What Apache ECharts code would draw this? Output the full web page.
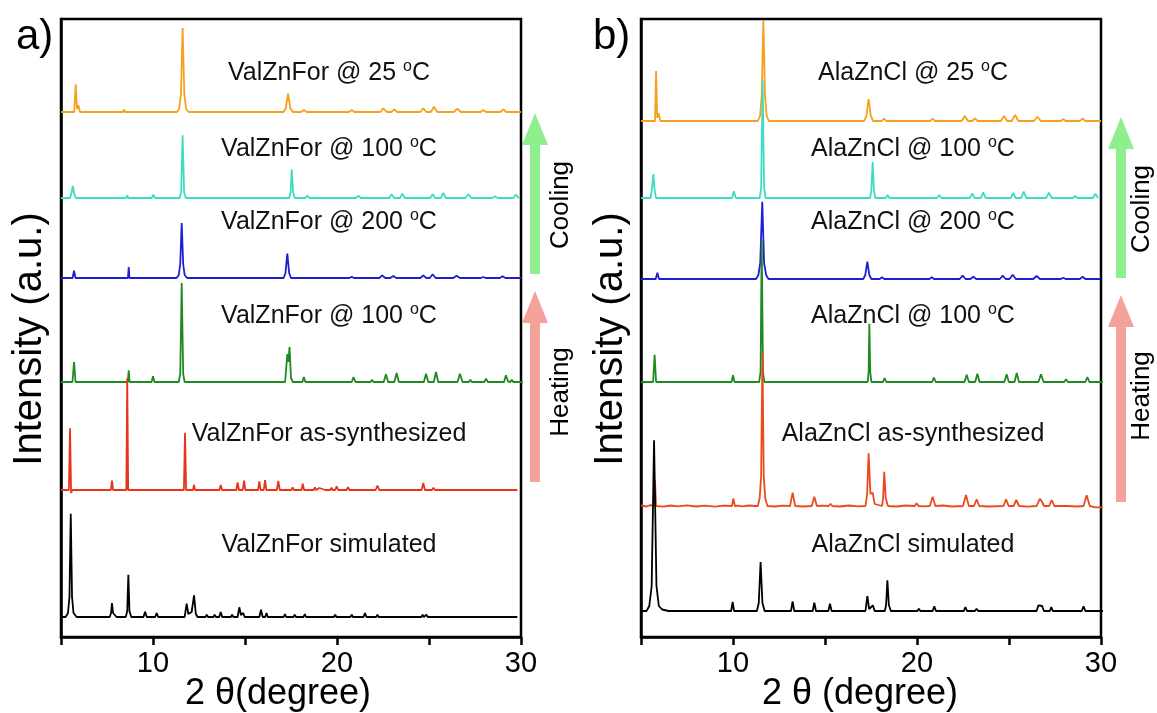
<!DOCTYPE html>
<html>
<head>
<meta charset="utf-8">
<script src="https://cdn.jsdelivr.net/npm/echarts@6/dist/echarts.min.js"></script>
<style>
  html, body { margin: 0; padding: 0; background: #fff; }
  #chart { width: 1157px; height: 713px; }
</style>
</head>
<body>
<div id="chart"></div>
<script>
// ---------- x-axis (2θ) ticks ----------
const xMin = 5, xMax = 30, xStep = 5;
const xLabelTicks = [10, 20, 30];

// ---------- panel a: ValZnFor patterns, [2θ, intensity above own baseline] ----------
const aLabels = ['ValZnFor @ 25 °C', 'ValZnFor @ 100 °C', 'ValZnFor @ 200 °C',
                 'ValZnFor @ 100 °C', 'ValZnFor as-synthesized', 'ValZnFor simulated'];
const aBaselines = [525, 439, 359, 255, 147, 20];

const a25 = [[5,0],[5.72,0],[5.8,27.7],[5.87,3],[5.95,6.7],[6.03,0],
  [8.36,0],[8.42,2.3],[8.48,0],[10.0,0],[10.1,1],[10.2,0],
  [11.3,0],[11.42,3],[11.52,18],[11.61,84],[11.7,18],[11.8,3],[11.95,0],
  [14.25,0],[14.35,1.7],[14.45,0],[15.25,0],[15.35,1],[15.45,0],
  [17.1,0],[17.22,4],[17.34,18.3],[17.46,4],[17.6,0],
  [18.05,0],[18.2,2],[18.35,0],[19.25,0],[19.35,1],[19.45,0],[19.9,0],[20.0,1],[20.1,0],
  [20.65,0],[20.8,2],[20.95,0],[21.7,0],[21.8,1],[21.9,0],
  [22.35,0],[22.52,3.7],[22.7,0],[22.95,0],[23.11,2.7],[23.27,0],
  [24.52,0],[24.69,3.7],[24.85,0],[25.1,0],[25.27,5.3],[25.45,0],
  [26.35,0],[26.54,3.3],[26.72,0],[27.1,0],[27.19,1],[27.3,0],
  [27.8,0],[27.95,2],[28.1,0],[28.88,0],[29.04,2.7],[29.2,0],[30,0]];

const a100c = [[5,0],[5.5,0],[5.58,6],[5.64,12],[5.72,4],[5.8,0],
  [8.55,0],[8.6,2.7],[8.65,0],[9.93,0],[10.02,3.3],[10.11,0],
  [11.45,0],[11.53,6],[11.61,62.7],[11.69,6],[11.78,0],
  [13.15,0],[13.2,0.7],[13.25,0],[14.45,0],[14.55,1],[14.65,0],[15.4,0],[15.5,1],[15.6,0],
  [17.4,0],[17.48,6],[17.54,28.7],[17.61,6],[17.7,0],
  [18.28,0],[18.39,2.3],[18.5,0],[19.5,0],[19.6,0.7],[19.7,0],
  [21.03,0],[21.16,2.3],[21.29,0],[22.1,0],[22.2,0.7],[22.3,0],
  [22.84,0],[22.97,3.7],[23.1,0],[23.42,0],[23.55,4.3],[23.68,0],
  [25.07,0],[25.2,3.7],[25.33,0],[25.64,0],[25.78,5],[25.92,0],
  [26.98,0],[27.14,4],[27.3,0],[27.7,0],[27.8,0.7],[27.9,0],
  [28.45,0],[28.59,1.7],[28.73,0],[29.58,0],[29.73,3.3],[29.85,0.5],[29.9,0]];

const a200 = [[5,0],[5.63,0],[5.71,7.3],[5.79,0],
  [8.64,0],[8.68,11],[8.72,0],[9.93,0],[10.0,1.3],[10.07,0],
  [11.28,0],[11.4,3],[11.48,14],[11.56,55],[11.64,14],[11.72,3],[11.85,0],
  [14.33,0],[14.4,0.7],[14.47,0],
  [17.1,0],[17.2,5],[17.3,24.3],[17.4,5],[17.5,0],
  [18.0,0],[18.1,1.3],[18.2,0],[19.2,0],[19.3,0.7],[19.4,0],
  [20.68,0],[20.8,1.3],[20.92,0],[21.7,0],[21.8,0.7],[21.9,0],
  [22.3,0],[22.46,2.7],[22.62,0],[22.9,0],[23.06,2],[23.22,0],
  [24.53,0],[24.69,2.7],[24.85,0],[25.04,0],[25.2,3.7],[25.36,0],
  [26.32,0],[26.5,2.3],[26.68,0],[27.0,0],[27.1,0.7],[27.2,0],
  [27.82,0],[27.95,1],[28.08,0],[28.85,0],[29.0,1.7],[29.15,0],[30,0]];

const a100h = [[5,0],[5.62,0],[5.71,20],[5.79,0],
  [8.63,0],[8.68,11.7],[8.73,0],[9.92,0],[10.0,5.7],[10.08,0],
  [11.4,0],[11.48,8],[11.56,99],[11.64,8],[11.72,0],
  [14.38,0],[14.45,0.7],[14.52,0],
  [17.18,0],[17.3,28],[17.36,20],[17.42,35],[17.5,4],[17.6,0],
  [18.12,0],[18.2,5],[18.28,0],[19.32,0],[19.4,1.7],[19.48,0],
  [20.8,0],[20.9,5],[21.0,0],[21.82,0],[21.9,2.3],[21.98,0],
  [22.54,0],[22.66,7.7],[22.78,0],[23.12,0],[23.24,9],[23.36,0],
  [24.72,0],[24.84,8.3],[24.96,0],[25.26,0],[25.38,10],[25.5,0],
  [26.55,0],[26.68,8.3],[26.82,0],[27.17,0],[27.25,2.3],[27.33,0],
  [28.0,0],[28.1,3.3],[28.2,0],[29.08,0],[29.18,6.7],[29.3,0.5],[29.42,0],[29.5,2.3],[29.58,0],[30.1,0]];

const aAsSyn = [[5,0],[5.43,0],[5.49,61.7],[5.55,-3],[5.62,0],
  [7.71,0],[7.77,9.3],[7.83,0],[8.55,0],[8.6,112],[8.65,0],
  [9.52,0],[9.57,1],[9.62,0],[10.1,0],[10.16,2],[10.22,0],[10.6,0],[10.65,1.3],[10.7,0],
  [11.68,0],[11.74,57.3],[11.8,0],[12.17,0],[12.23,5],[12.29,0],[12.74,0],[12.8,1.3],[12.86,0],
  [13.61,0],[13.68,5],[13.75,0],[14.14,0],[14.2,2],[14.26,0],
  [14.53,0],[14.6,7.7],[14.67,0],[14.88,0],[14.95,9.3],[15.02,0],
  [15.71,0],[15.78,8.7],[15.85,0],[16.02,0],[16.09,10],[16.16,0],
  [16.73,0],[16.81,9],[16.89,0],[17.14,0],[17.2,2],[17.26,0],[17.52,0],[17.59,2.7],[17.66,0],
  [18.07,0],[18.14,6.3],[18.21,0],[18.73,0],[18.8,2.7],[18.87,0],[18.97,0],[19.04,2],[19.11,0],
  [19.36,0],[19.43,2],[19.5,0],[19.63,0],[19.7,2.3],[19.77,0],[19.9,0],[19.98,3.7],[20.06,0],
  [20.52,0],[20.6,2.7],[20.68,0],[21.63,0],[21.7,1.3],[21.77,0],[22.1,0],[22.2,4.3],[22.3,0],
  [23.73,0],[23.8,1.3],[23.87,0],[24.6,0],[24.69,7],[24.78,0],[25.16,0],[25.24,2.3],[25.32,0],
  [26.52,0],[26.6,1.3],[26.68,0],[27.52,0],[27.6,1],[27.68,0],[28.63,0],[28.7,0.7],[28.77,0],[29.8,0]];

const aSim = [[5,0],[5.25,0],[5.38,4],[5.46,20],[5.53,103.3],[5.6,20],[5.68,4],[5.85,0],
  [7.65,0],[7.72,4],[7.77,14],[7.83,4],[7.93,2.3],[8.02,0],
  [8.52,0],[8.6,6],[8.66,42.3],[8.72,6],[8.82,0],[9.48,0],[9.57,5.3],[9.66,0],[10.12,0],[10.2,4],[10.28,0],
  [11.72,0],[11.83,13.3],[11.92,3],[12.0,2],[12.1,5],[12.23,21.7],[12.33,3],[12.42,0],
  [12.85,0],[12.92,2.3],[12.99,0],[13.28,0],[13.35,2.3],[13.42,0],[13.6,0],[13.68,5],[13.76,0],
  [14.23,0],[14.3,2.3],[14.37,0],[14.6,0],[14.69,9.7],[14.78,2],[14.9,4],[14.98,0],
  [15.78,0],[15.87,7.3],[15.96,0],[16.1,0],[16.17,4],[16.24,0],
  [16.83,0],[16.9,1.7],[16.97,0],[17.1,0],[17.17,3],[17.24,0],[17.63,0],[17.7,2.3],[17.77,0],
  [18.18,0],[18.25,3],[18.32,0],[18.83,0],[18.9,1.7],[18.97,0],[19.33,0],[19.4,1.7],[19.47,0],
  [19.83,0],[19.9,2.3],[19.97,0],[20.73,0],[20.8,2.3],[20.87,0],[21.44,0],[21.52,4],[21.6,0],
  [22.13,0],[22.2,2.3],[22.27,0],[22.43,0],[22.5,2],[22.58,0],[22.93,0],[23.0,2],[23.07,0],
  [23.83,0],[23.9,1.3],[23.97,0],[24.58,0],[24.65,2.3],[24.72,0],[24.79,0],[24.86,2.3],[24.93,0],
  [25.33,0],[25.4,1.7],[25.47,0],[26.43,0],[26.5,1.3],[26.57,0],[27.03,0],[27.1,1.7],[27.17,0],
  [27.83,0],[27.9,1.3],[27.97,0],[28.73,0],[28.8,1],[28.87,0],[29.8,0]];

// ---------- panel b: AlaZnCl patterns ----------
const bLabels = ['AlaZnCl @ 25 °C', 'AlaZnCl @ 100 °C', 'AlaZnCl @ 200 °C',
                 'AlaZnCl @ 100 °C', 'AlaZnCl as-synthesized', 'AlaZnCl simulated'];
const bBaselines = [516, 439, 358, 255, 131, 26];

const b25 = [[5,0],[5.76,0],[5.82,50],[5.88,3],[5.95,7.7],[6.05,0],
  [10.03,0],[10.1,1.3],[10.17,0],
  [11.35,0],[11.47,5],[11.56,25],[11.65,101],[11.74,25],[11.83,5],[11.95,0],
  [14.38,0],[14.46,1.3],[14.54,0],[15.32,0],[15.4,0.7],[15.48,0],
  [17.12,0],[17.25,5],[17.37,22],[17.49,5],[17.62,0],
  [18.08,0],[18.2,2.3],[18.32,0],[19.3,0],[19.4,1],[19.5,0],[19.82,0],[19.9,0.7],[19.98,0],
  [20.72,0],[20.85,2.3],[20.98,0],[21.8,0],[21.9,1],[22.0,0],
  [22.43,0],[22.6,5],[22.77,0],[23.0,0],[23.15,2.7],[23.3,0],
  [24.56,0],[24.73,5],[24.9,0],[25.15,0],[25.33,6],[25.51,0],
  [26.35,0],[26.54,4.3],[26.73,0],[27.1,0],[27.2,1.3],[27.3,0],
  [27.82,0],[27.95,2],[28.08,0],[28.85,0],[29.0,2.7],[29.15,0],[30,0]];

const b100c = [[5,0],[5.52,0],[5.6,10],[5.67,24],[5.74,8],[5.82,0],
  [9.95,0],[10.05,6.7],[10.15,0],
  [11.45,0],[11.53,10],[11.61,118.3],[11.69,10],[11.77,0],
  [13.18,0],[13.25,0.7],[13.32,0],[14.42,0],[14.5,1.7],[14.58,0],[15.42,0],[15.5,1],[15.58,0],
  [17.45,0],[17.52,8],[17.59,36],[17.66,8],[17.74,0],
  [18.3,0],[18.4,3],[18.5,0],[19.6,0],[19.7,1],[19.8,0],
  [21.09,0],[21.21,3],[21.33,0],[22.1,0],[22.2,1],[22.3,0],
  [22.87,0],[23.0,4.7],[23.13,0],[23.47,0],[23.6,5.7],[23.73,0],
  [25.1,0],[25.23,5],[25.36,0],[25.66,0],[25.8,6.3],[25.94,0],
  [27.02,0],[27.17,5.3],[27.32,0],[27.72,0],[27.8,1],[27.88,0],
  [28.48,0],[28.6,2],[28.72,0],[29.55,0],[29.7,4.3],[29.8,1],[29.85,0]];

const b200 = [[5,0],[5.8,0],[5.89,6.3],[5.98,0],[9.93,0],[10.0,1.3],[10.07,0],
  [11.25,0],[11.38,4],[11.48,16],[11.59,77.3],[11.69,16],[11.8,4],[11.93,0],
  [14.32,0],[14.4,1],[14.48,0],
  [17.08,0],[17.19,4],[17.3,17.3],[17.41,4],[17.52,0],
  [17.98,0],[18.1,1.7],[18.22,0],[19.2,0],[19.3,1],[19.4,0],
  [20.68,0],[20.8,1.7],[20.92,0],[21.7,0],[21.8,1],[21.9,0],
  [22.32,0],[22.48,3.3],[22.64,0],[22.9,0],[23.06,2.3],[23.22,0],
  [24.5,0],[24.66,3.3],[24.82,0],[25.03,0],[25.2,4.3],[25.37,0],
  [26.32,0],[26.5,3],[26.68,0],[27.1,0],[27.2,1],[27.3,0],
  [27.82,0],[27.95,1.3],[28.08,0],[28.85,0],[29.0,2.3],[29.15,0],[29.95,0]];

const b100h = [[5,0],[5.66,0],[5.74,27.3],[5.82,0],
  [9.92,0],[10.0,6.7],[10.08,0],
  [11.42,0],[11.5,10],[11.56,141.7],[11.63,10],[11.7,0],
  [13.13,0],[13.2,1],[13.27,0],[14.37,0],[14.45,1.7],[14.53,0],[15.32,0],[15.4,1],[15.48,0],
  [17.32,0],[17.37,10],[17.41,58.3],[17.46,10],[17.52,0],
  [18.15,0],[18.24,4],[18.33,0],[19.32,0],[19.4,1],[19.48,0],
  [20.82,0],[20.92,4.3],[21.02,0],[21.82,0],[21.9,1.7],[21.98,0],
  [22.58,0],[22.7,7.3],[22.82,0],[23.16,0],[23.28,8.3],[23.4,0],
  [24.75,0],[24.87,7.7],[24.99,0],[25.3,0],[25.42,9],[25.54,0],
  [26.6,0],[26.74,7.7],[26.88,0],[27.22,0],[27.3,1.7],[27.38,0],
  [28.0,0],[28.1,2.7],[28.2,0],[29.15,0],[29.26,5],[29.37,0],[30.1,0]];

const bAsSyn = [[5,0.5],[5.3,-0.5],[5.5,0.8],[5.7,0],[5.76,26],[5.82,0],[6.2,-0.6],[6.6,0.5],
  [7.0,-0.3],[7.5,0.6],[8.0,-0.5],[8.5,0.4],[9.0,-0.6],[9.5,0.3],
  [9.94,0],[10.02,7.7],[10.1,0],[10.3,0.3],[10.4,1.3],[10.5,-0.4],[10.9,0.5],[11.2,0],
  [11.35,0],[11.45,8],[11.53,30],[11.6,152.7],[11.67,30],[11.75,8],[11.87,0],
  [12.3,-0.5],[12.7,0.4],[13.1,0],[13.24,13.3],[13.38,0],[13.8,-0.5],
  [14.28,0],[14.42,9.3],[14.56,0],[14.9,0.4],[15.2,0],[15.3,2.3],[15.4,0],[15.8,-0.5],[16.3,0.5],[16.8,-0.4],
  [17.2,0],[17.29,12],[17.37,52.7],[17.47,12],[17.59,13.3],[17.7,2],[17.8,0],
  [18.1,0],[18.16,8],[18.22,34.3],[18.3,8],[18.42,0],
  [18.9,-0.5],[19.4,0.5],[19.88,0],[19.98,2.7],[20.08,0],[20.4,-0.4],
  [20.7,0],[20.85,9.3],[21.0,0],[21.4,0.5],[21.9,-0.5],
  [22.5,0],[22.66,11],[22.82,0],[23.1,0],[23.24,6.7],[23.38,0],[23.9,-0.5],
  [24.7,0],[24.84,6.7],[24.98,0],[25.25,0],[25.4,6],[25.55,0],[26.0,-0.6],
  [26.5,0],[26.68,7.3],[26.8,4],[26.9,0],[27.18,0],[27.32,6],[27.46,0],
  [28.0,0],[28.1,1],[28.2,0],[28.7,-0.5],[29.05,0],[29.22,10.7],[29.39,0],[29.7,-1.3],[30.2,-1.3]];

const bSim = [[5,0],[5.3,0],[5.45,5],[5.58,25],[5.71,170.7],[5.84,25],[5.97,5],[6.15,1.5],[6.5,0],
  [9.9,0],[9.98,9],[10.06,0],[10.35,0],[10.4,1],[10.45,0],
  [11.3,0],[11.4,8],[11.5,49],[11.6,8],[11.72,0],
  [13.15,0],[13.24,9.7],[13.33,0],[14.33,0],[14.42,8.3],[14.51,0],[15.18,0],[15.27,7.3],[15.36,0],
  [17.2,0],[17.3,15],[17.4,2],[17.5,2],[17.6,5.7],[17.7,0],
  [18.25,0],[18.32,6],[18.39,30.7],[18.47,6],[18.58,0],
  [19.32,0],[19.4,1.7],[19.48,0],[20.02,0],[20.1,2.3],[20.18,0],
  [20.85,0],[20.94,4.7],[21.03,0],[21.82,0],[21.9,1.3],[21.98,0],
  [22.54,0],[22.63,4],[22.72,0],[23.15,0],[23.24,2.3],[23.33,0],
  [24.58,0],[24.66,1.7],[24.74,0],[25.16,0],[25.24,1.3],[25.32,0],
  [26.5,0],[26.6,5.7],[26.7,4],[26.8,5],[26.9,0],[27.22,0],[27.3,4],[27.38,0],
  [27.92,0],[28.0,1.3],[28.08,0],[28.95,0],[29.05,4.7],[29.15,0],[30.2,0]];

// trace colours, top trace first
const aColors = ['#F5A11E', '#3FDCC4', '#1E1ED2', '#1F8A1F', '#E8341C', '#000000'];
const bColors = ['#F5A11E', '#3FDCC4', '#1E1ED2', '#1F8A1F', '#EA4A1E', '#000000'];

const aPatterns = [a25, a100c, a200, a100h, aAsSyn, aSim];
const bPatterns = [b25, b100c, b200, b100h, bAsSyn, bSim];

// ---------- layout ----------
const FONT = '"Liberation Sans", Arial, Helvetica, sans-serif';
const panels = [
  { left: 61, width: 460, patterns: aPatterns, baselines: aBaselines, colors: aColors,
    labels: aLabels, labelX: 329, letter: 'a)', letterX: 16, yTitleX: 30, xTitle: '2 θ(degree)', xTitleX: 278,
    arrowX: 535, textX: 561 },
  { left: 641, width: 460, patterns: bPatterns, baselines: bBaselines, colors: bColors,
    labels: bLabels, labelX: 913, letter: 'b)', letterX: 593, yTitleX: 611, xTitle: '2 θ (degree)', xTitleX: 860,
    arrowX: 1121, textX: 1142 }
];
const labelY = [73, 149, 222, 316, 434, 545];
const gridTop = 19, gridHeight = 618, yTop = 618;

function richLabel(s) {
  const parts = s.split('°');
  if (parts.length === 2) return '{n|' + parts[0] + '}{s|o}{n|' + parts[1] + '}';
  return '{n|' + s + '}';
}

function arrowPoints(cx, tip, headBase, bottom) {
  return [[cx - 5, bottom], [cx - 5, headBase], [cx - 13, headBase], [cx, tip],
          [cx + 13, headBase], [cx + 5, headBase], [cx + 5, bottom]];
}

const grids = [], xAxes = [], yAxes = [], series = [], graphics = [];

panels.forEach((p, i) => {
  grids.push({ left: p.left, top: gridTop, width: p.width, height: gridHeight,
    show: true, borderColor: '#000', borderWidth: 2.5, backgroundColor: 'transparent' });
  xAxes.push({ gridIndex: i, type: 'value', min: xMin, max: xMax, interval: xStep,
    axisLine: { show: true, lineStyle: { color: '#000', width: 2.5 } },
    axisTick: { show: true, inside: false, length: 8, lineStyle: { color: '#000', width: 2.5 } },
    axisLabel: { color: '#000', fontSize: 29, fontFamily: FONT, margin: 12,
      formatter: v => (xLabelTicks.indexOf(v) >= 0 ? String(v) : '') },
    splitLine: { show: false } });
  yAxes.push({ gridIndex: i, type: 'value', min: 0, max: yTop,
    axisLine: { show: true, lineStyle: { color: '#000', width: 2.5 } },
    axisTick: { show: false }, axisLabel: { show: false }, splitLine: { show: false } });

  p.patterns.forEach((pts, k) => {
    series.push({
      type: 'line', xAxisIndex: i, yAxisIndex: i, showSymbol: false, clip: false,
      lineStyle: { color: p.colors[k], width: 1.8 }, silent: true,
      data: pts.map(q => [q[0], q[1] + p.baselines[k]])
    });
  });

  // trace captions
  p.labels.forEach((t, k) => {
    graphics.push({ type: 'text', x: p.labelX, y: labelY[k], z: 10,
      style: { text: richLabel(t), fill: '#111', align: 'center', verticalAlign: 'middle',
        textAlign: 'center', textVerticalAlign: 'middle',
        rich: { n: { fontSize: 25, fontFamily: FONT, lineHeight: 29, fill: '#111' },
                s: { fontSize: 16, fontFamily: FONT, lineHeight: 16, verticalAlign: 'top', fill: '#111' } } } });
  });

  // panel letter
  graphics.push({ type: 'text', x: p.letterX, y: 37,
    style: { text: p.letter, fill: '#000', font: '42px ' + FONT, align: 'left', verticalAlign: 'middle',
      textAlign: 'left', textVerticalAlign: 'middle' } });
  // axis titles
  graphics.push({ type: 'text', x: p.yTitleX, y: 339, rotation: Math.PI / 2,
    style: { text: 'Intensity (a.u.)', fill: '#000', font: '40px ' + FONT, align: 'center', verticalAlign: 'middle',
      textAlign: 'center', textVerticalAlign: 'middle' } });
  graphics.push({ type: 'text', x: p.xTitleX, y: 694,
    style: { text: p.xTitle, fill: '#000', font: '36px ' + FONT, align: 'center', verticalAlign: 'middle',
      textAlign: 'center', textVerticalAlign: 'middle' } });

  // cooling / heating arrows
  const dy = i === 0 ? 0 : 4;
  graphics.push({ type: 'polygon', shape: { points: arrowPoints(p.arrowX, 113 + dy, 145 + dy, 274 + dy) },
    style: { fill: '#8FEF8F' } });
  graphics.push({ type: 'polygon', shape: { points: arrowPoints(p.arrowX, 291 + dy, 323 + dy, 482 + dy * 5) },
    style: { fill: '#F4A29A' } });
  graphics.push({ type: 'text', x: p.textX, y: 205 + dy, rotation: Math.PI / 2,
    style: { text: 'Cooling', fill: '#000', font: '26px ' + FONT, align: 'center', verticalAlign: 'middle',
      textAlign: 'center', textVerticalAlign: 'middle' } });
  graphics.push({ type: 'text', x: p.textX, y: 392 + dy, rotation: Math.PI / 2,
    style: { text: 'Heating', fill: '#000', font: '26px ' + FONT, align: 'center', verticalAlign: 'middle',
      textAlign: 'center', textVerticalAlign: 'middle' } });
});

const chart = echarts.init(document.getElementById('chart'), null, { renderer: 'canvas' });
chart.setOption({
  animation: false,
  backgroundColor: '#fff',
  grid: grids, xAxis: xAxes, yAxis: yAxes, series: series, graphic: graphics
});
</script>
</body>
</html>
